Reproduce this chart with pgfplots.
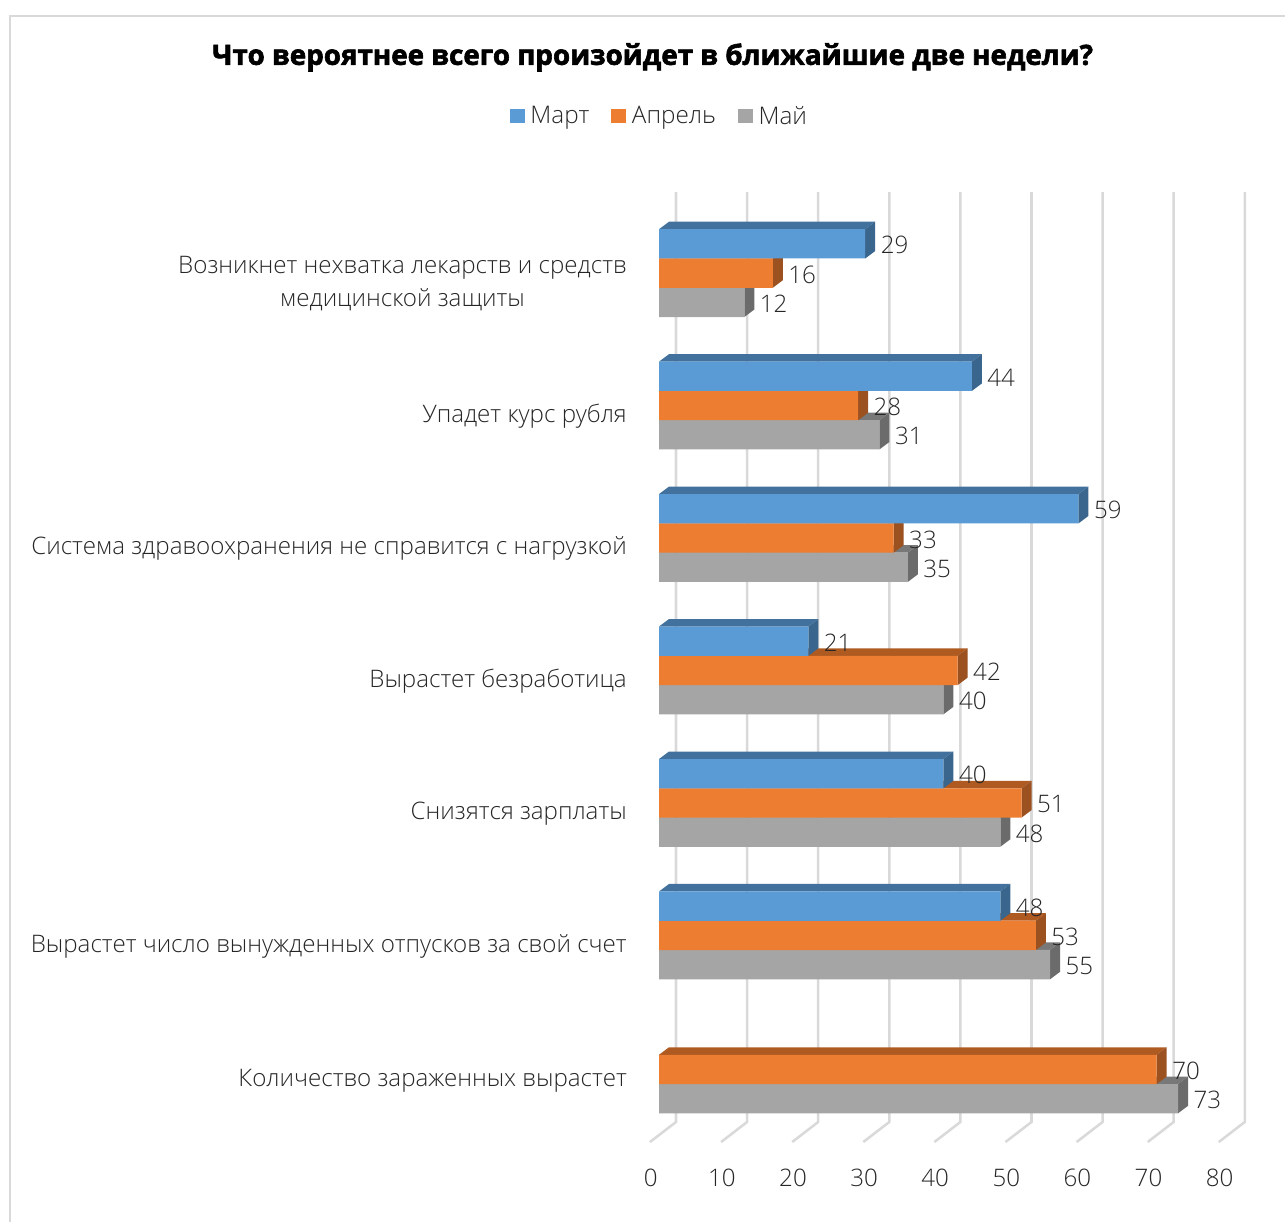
\documentclass[border=0pt]{standalone}
\usepackage{pgfplots}
\pgfplotsset{compat=1.18}
\usepackage{fontspec}
\setmainfont[UprightFont={* Light}]{Open Sans}
\newfontfamily\titlefont[BoldFeatures={FakeBold=2.2}]{Open Sans}
\definecolor{cblue}{HTML}{5B9BD5}\definecolor{cbluetop}{HTML}{41719C}\definecolor{cblueside}{HTML}{3A668E}
\definecolor{corange}{HTML}{ED7D31}\definecolor{corangetop}{HTML}{AE5A21}\definecolor{corangeside}{HTML}{9C5120}
\definecolor{cgray}{HTML}{A5A5A5}\definecolor{cgraytop}{HTML}{787878}\definecolor{cgrayside}{HTML}{6B6B6B}
\definecolor{cgrid}{HTML}{D9D9D9}\definecolor{ctext}{HTML}{262626}
\newcommand\facebar[3]{% value, y centre, colour stem
  \pgfmathsetmacro\xb{#1+1.406}%
  \pgfmathsetmacro\yt{#2-0.1106}%
  \pgfmathsetmacro\yb{#2+0.1106}%
  \pgfmathsetmacro\ytt{\yt-0.0566}%
  \pgfmathsetmacro\ybb{\yb-0.0566}%
  \edef\temp{\noexpand\addplot[forget plot,fill=#3top,draw=none] coordinates {(0,\yt) (1.406,\ytt) (\xb,\ytt) (#1,\yt)} -- cycle;
  \noexpand\addplot[forget plot,fill=#3side,draw=none] coordinates {(#1,\yt) (\xb,\ytt) (\xb,\ybb) (#1,\yb)} -- cycle;}\temp}
\newcommand\gridl[1]{%
  \pgfmathsetmacro\xa{#1-1.266}\pgfmathsetmacro\xc{#1+2.39}%
  \edef\temp{\noexpand\addplot[forget plot,cgrid,line width=1.9pt] coordinates {(\xc,-0.6123) (\xc,6.409) (\xa,6.5602)};}\temp}
\begin{document}
\begin{tikzpicture}
\useasboundingbox (0,0) rectangle (963.75pt,916.5pt);
\draw[cgrid,line width=1.5pt] (7.7pt,0) -- (7.7pt,904.5pt) -- (963.75pt,904.5pt);
\node[font=\titlefont\bfseries\fontsize{20.85pt}{24pt}\selectfont,text=black] at (489.5pt,873.5pt) {Что вероятнее всего произойдет в ближайшие две недели?};
\begin{axis}[
  at={(487.5pt,60pt)},anchor=south west,scale only axis,
  width=447pt,height=712.5pt,
  xmin=-1.266,xmax=82.56,ymin=-0.6123,ymax=6.5602,y dir=reverse,clip=false,
  axis line style={draw=none},major tick length=0pt,
  xtick={-1.266,8.734,18.734,28.734,38.734,48.734,58.734,68.734,78.734},
  xticklabels={0,10,20,30,40,50,60,70,80},
  x tick label style={font=\fontsize{18.1pt}{22pt}\selectfont,text=ctext,yshift=-20pt,xshift=0.6pt,inner sep=0pt},
  ytick={0.08,1.08,2.08,3.08,4.08,5.08,6.095},
  yticklabels={{Возникнет нехватка лекарств и средств\\медицинской защиты},{Упадет курс рубля},{Система здравоохранения не справится с нагрузкой},{Вырастет безработица},{Снизятся зарплаты},{Вырастет число вынужденных отпусков за свой счет},{Количество зараженных вырастет}},
  y tick label style={font=\fontsize{18.1pt}{24.75pt}\selectfont,text=ctext,align=center,anchor=east,inner sep=0pt,xshift=-17.25pt},
  legend columns=3,
  legend style={at={(0.0163,1.08)},anchor=center,draw=none,fill=none,font=\fontsize{18.2pt}{22pt}\selectfont,text=ctext,/tikz/every even column/.style={column sep=14.5pt},/tikz/every odd column/.style={column sep=2.3pt},inner sep=0pt},
  legend image code/.code={\fill[#1,draw=none] (0pt,-5.6pt) rectangle (11.2pt,5.6pt);},
  every node near coord/.append style={font=\fontsize{18.1pt}{22pt}\selectfont,text=ctext,anchor=west,inner sep=0pt,xshift=11.5pt,yshift=-1.1pt},
  /pgf/number format/assume math mode=true,
]
\addlegendimage{fill=cblue}\addlegendentry{Март}
\addlegendimage{fill=corange}\addlegendentry{Апрель}
\addlegendimage{fill=cgray}\addlegendentry{Май}
\gridl{0}\gridl{10}\gridl{20}\gridl{30}\gridl{40}\gridl{50}\gridl{60}\gridl{70}\gridl{80}

% May
\facebar{12}{0.2209}{cgray}\facebar{31}{1.2209}{cgray}\facebar{35}{2.2209}{cgray}\facebar{40}{3.2209}{cgray}\facebar{48}{4.2209}{cgray}\facebar{55}{5.2209}{cgray}\facebar{73}{6.2329}{cgray}
\addplot[forget plot,xbar,bar width=21.97pt,bar shift=0pt,fill=cgray,draw=none,nodes near coords] coordinates {(12,0.2209) (31,1.2209) (35,2.2209) (40,3.2209) (48,4.2209) (55,5.2209) (73,6.2329)};
% April
\facebar{16}{0}{corange}\facebar{28}{1}{corange}\facebar{33}{2}{corange}\facebar{42}{3}{corange}\facebar{51}{4}{corange}\facebar{53}{5}{corange}\facebar{70}{6.012}{corange}
\addplot[forget plot,xbar,bar width=21.97pt,bar shift=0pt,fill=corange,draw=none,nodes near coords] coordinates {(16,0) (28,1) (33,2) (42,3) (51,4) (53,5) (70,6.012)};
% March
\facebar{29}{-0.2209}{cblue}\facebar{44}{0.7791}{cblue}\facebar{59}{1.7791}{cblue}\facebar{21}{2.7791}{cblue}\facebar{40}{3.7791}{cblue}\facebar{48}{4.7791}{cblue}
\addplot[forget plot,xbar,bar width=21.97pt,bar shift=0pt,fill=cblue,draw=none,nodes near coords] coordinates {(29,-0.2209) (44,0.7791) (59,1.7791) (21,2.7791) (40,3.7791) (48,4.7791)};
\end{axis}
\end{tikzpicture}
\end{document}
